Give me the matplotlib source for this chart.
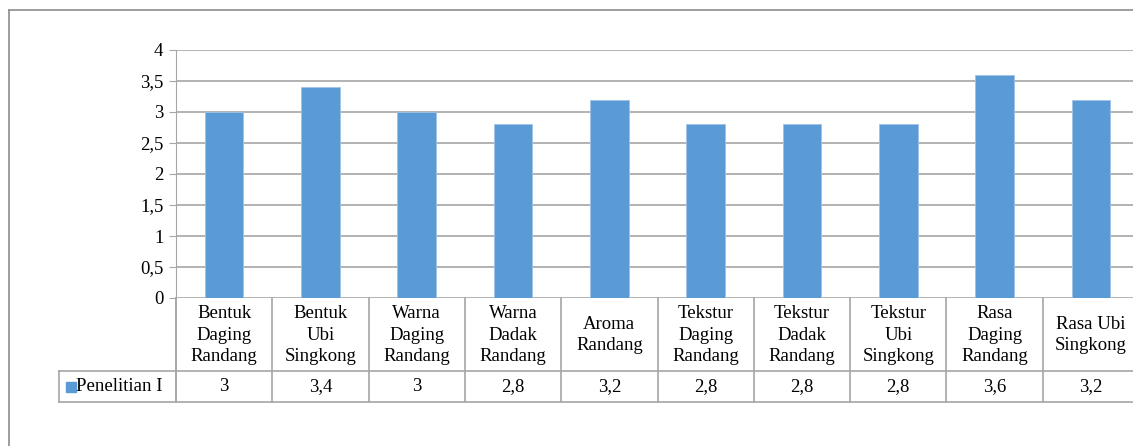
import matplotlib
matplotlib.use("Agg")
import matplotlib.pyplot as plt
from matplotlib.lines import Line2D
from matplotlib.patches import Rectangle

categories = ["Bentuk\nDaging\nRandang", "Bentuk\nUbi\nSingkong", "Warna\nDaging\nRandang",
              "Warna\nDadak\nRandang", "Aroma\nRandang", "Tekstur\nDaging\nRandang",
              "Tekstur\nDadak\nRandang", "Tekstur\nUbi\nSingkong", "Rasa\nDaging\nRandang",
              "Rasa Ubi\nSingkong"]
values = [3, 3.4, 3, 2.8, 3.2, 2.8, 2.8, 2.8, 3.6, 3.2]
value_labels = ["3", "3,4", "3", "2,8", "3,2", "2,8", "2,8", "2,8", "3,6", "3,2"]
series_name = "Penelitian I"
yticks = [0, 0.5, 1, 1.5, 2, 2.5, 3, 3.5, 4]
ytick_labels = ["0", "0,5", "1", "1,5", "2", "2,5", "3", "3,5", "4"]

W, H = 1133, 446
plt.rcParams['font.family'] = 'serif'
plt.rcParams['font.serif'] = ['Liberation Serif', 'DejaVu Serif']
fig = plt.figure(figsize=(W / 100, H / 100), dpi=100)

def fx(px):
    return px / W

def fy(py):
    return 1 - py / H

grid_c = "#A6A6A6"
bar_c = "#5B9BD5"
fs = 13.5

# outer chart border
fig.add_artist(Line2D([fx(9), fx(9)], [fy(10), fy(460)], color="#8C8C8C", lw=1.2))
fig.add_artist(Line2D([fx(9), fx(1140)], [fy(10), fy(10)], color="#8C8C8C", lw=1.2))

left, top, bottom, right = 176, 50, 298, 1139
ax = fig.add_axes([fx(left), fy(bottom), (right - left) / W, (bottom - top) / H])
n = len(categories)
ax.set_xlim(0, n)
ax.set_ylim(0, 4)
x = [i + 0.5 for i in range(n)]
ax.bar(x, values, width=0.4, color=bar_c, edgecolor="#9DC3E6", linewidth=0.6, zorder=3)
ax.set_yticks(yticks)
ax.set_yticklabels(ytick_labels, fontsize=fs)
ax.set_xticks([])
for s in ["top", "right", "bottom"]:
    ax.spines[s].set_visible(False)
ax.spines["left"].set_color(grid_c)
ax.tick_params(axis="y", length=5, color=grid_c, pad=4)
for t in yticks:
    ax.axhline(t, color=grid_c, lw=1.2, zorder=1)

# data table
def ay(py):
    # pixel y -> axes-fraction y
    return (bottom - py) / (bottom - top)

trans = ax.get_xaxis_transform()
row1_bot = 371
row2_bot = 402
for i in range(n + 1):
    ax.add_line(Line2D([i, i], [ay(bottom), ay(row2_bot)], transform=trans,
                       color=grid_c, lw=1.2, clip_on=False))
ax.add_line(Line2D([0, n], [ay(row1_bot), ay(row1_bot)], transform=trans,
                   color=grid_c, lw=1.2, clip_on=False))
fig.add_artist(Line2D([fx(59), fx(left)], [fy(row1_bot), fy(row1_bot)], color=grid_c, lw=1.2))
fig.add_artist(Line2D([fx(59), fx(1140)], [fy(row2_bot), fy(row2_bot)], color=grid_c, lw=1.2))
fig.add_artist(Line2D([fx(59), fx(59)], [fy(row1_bot), fy(row2_bot)], color=grid_c, lw=1.2))
fig.add_artist(Line2D([fx(left), fx(left)], [fy(bottom), fy(row2_bot)], color=grid_c, lw=1.2))

for i, (c, v) in enumerate(zip(categories, value_labels)):
    ax.text(i + 0.5, ay((bottom + row1_bot) / 2 + 0.5), c, transform=trans, ha="center",
            va="center", fontsize=fs, linespacing=1.32, clip_on=False)
    ax.text(i + 0.5, ay((row1_bot + row2_bot) / 2), v, transform=trans, ha="center",
            va="center", fontsize=fs, clip_on=False)

# legend key in table
fig.add_artist(Rectangle((fx(66), fy(392)), 10 / W, 10 / H, color=bar_c))
fig.text(fx(76), fy((row1_bot + row2_bot) / 2), series_name, ha="left", va="center", fontsize=fs)

fig.savefig("out.png", dpi=100)
